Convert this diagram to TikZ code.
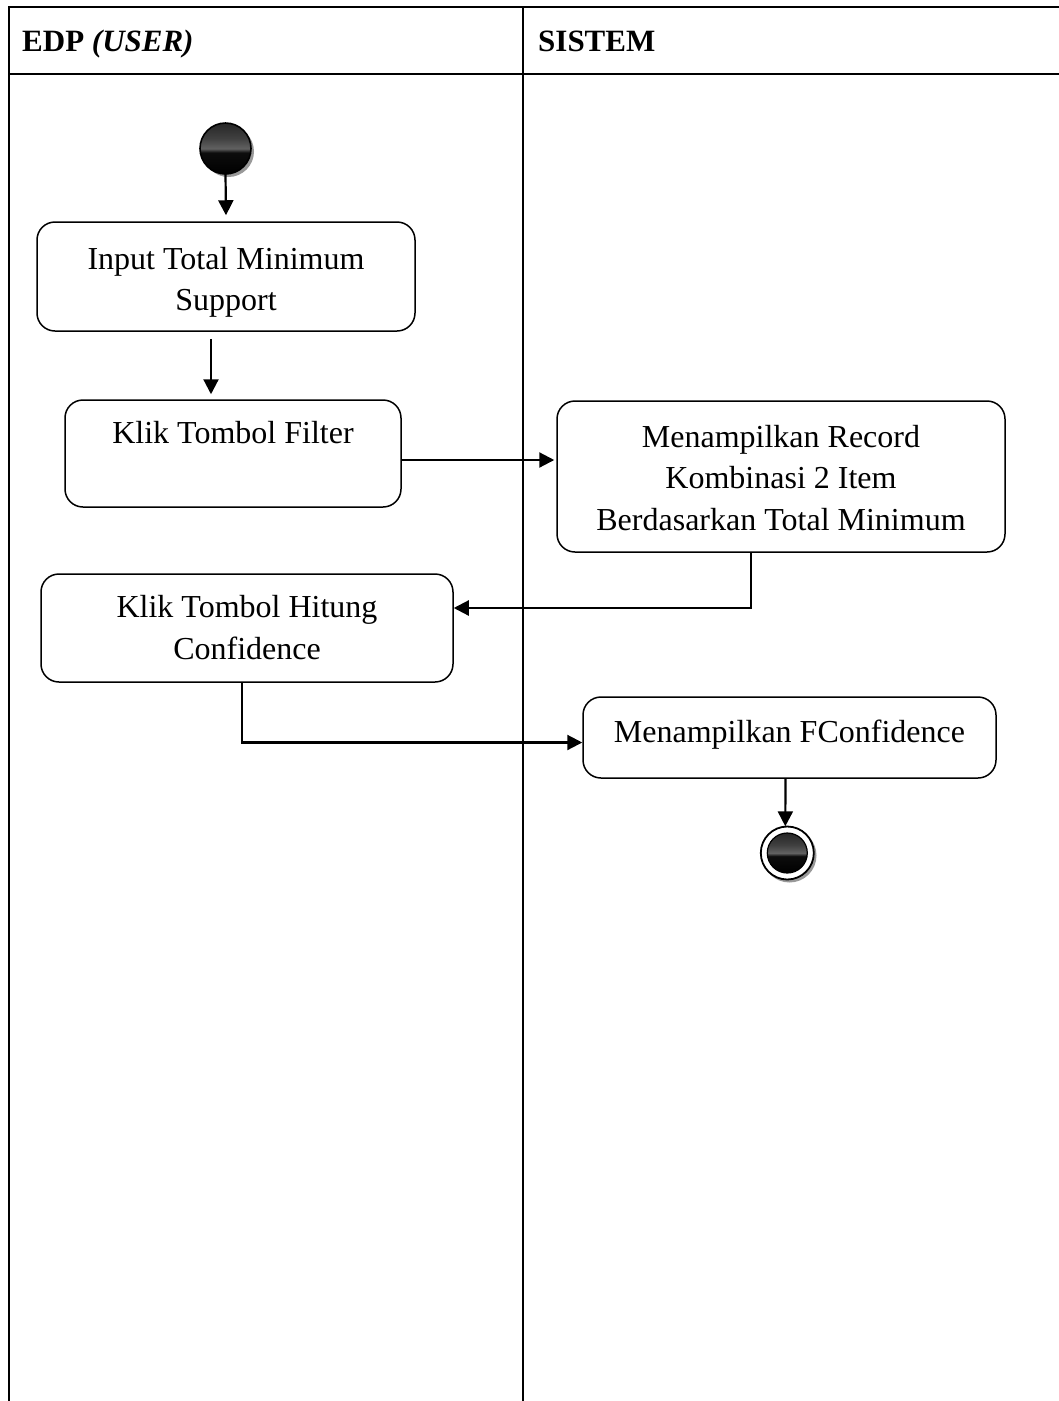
\documentclass[tikz,border=0pt]{standalone}
\usepackage{fontspec}
\setmainfont{Liberation Serif}
\usetikzlibrary{arrows.meta,calc}
\newcommand{\lowtxt}[2][-4pt]{\raisebox{#1}[\height][\depth]{\begin{tabular}{@{}c@{}}#2\end{tabular}}}
\pgfdeclareverticalshading{ucball}{100bp}{color(0bp)=(black); color(25bp)=(black); color(46bp)=(black!95); color(50bp)=(black!62); color(60bp)=(black!75); color(75bp)=(black!85); color(100bp)=(black!85)}
\begin{document}
\begin{tikzpicture}[x=1pt,y=-1pt,
  actbox/.style={draw,line width=1.5pt,rounded corners=18pt,inner sep=0pt,
    font=\fontsize{32}{41.5}\selectfont},
  arr/.style={line width=2.2pt,-{Triangle[length=15pt,width=15pt]}},
  lane/.style={line width=1.8pt},
  ballshade/.style={shading=ucball}
]
\useasboundingbox (0,0) rectangle (1059,1401);
% swimlane table
\draw[lane] (1059,7) -- (9,7) -- (9,1401);
\draw[lane] (9,74) -- (1059,74);
\draw[lane] (523,7) -- (523,1401);
\node[anchor=base west,inner sep=0pt,font=\fontsize{31}{36}\selectfont\bfseries] (h1) at (22,51) {EDP \textit{(USER)}};
\node[anchor=base west,inner sep=0pt,font=\fontsize{31}{36}\selectfont\bfseries] (h2) at (538,51) {SISTEM};
% start node
\fill[black!40] (228.5,151.5) circle (25.5);
\shade[ballshade] (225.5,148.5) circle (25.5);
\draw[line width=1.6pt] (225.5,148.5) circle (25.5);
\node[circle,minimum size=51pt,inner sep=0pt] (start) at (225.5,148.5) {};
% activities
\node[actbox,minimum width=378pt,minimum height=109pt] (box1) at (226,276.5) {\lowtxt[-5pt]{Input Total Minimum\\Support}};
\node[actbox,minimum width=336pt,minimum height=107pt] (box2) at (233,453.5) {\lowtxt[-2pt]{Klik Tombol Filter\\\mbox{}}};
\node[actbox,minimum width=448pt,minimum height=151pt] (box3) at (781,476.5) {\lowtxt{Menampilkan Record\\Kombinasi 2 Item\\Berdasarkan Total Minimum}};
\node[actbox,minimum width=412pt,minimum height=108pt] (box4) at (247,628) {\lowtxt[-2pt]{Klik Tombol Hitung\\Confidence}};
\node[actbox,minimum width=413pt,minimum height=81pt] (box5) at (789.5,737.5) {\lowtxt[3pt]{Menampilkan FConfidence}};
% end node
\fill[black!40] (789.5,855.5) circle (27);
\draw[line width=1.8pt,fill=white] (787.3,853) circle (26.5);
\shade[ballshade] (787.3,853) circle (20);
\draw[line width=1.2pt] (787.3,853) circle (20);
\node[circle,minimum size=53pt,inner sep=0pt] (end) at (787.3,853) {};
% connectors
\draw[arr] (start.south) -- ([yshift=6pt]box1.north);
\draw[arr] ([xshift=-15pt,yshift=-7pt]box1.south) -- ([xshift=-22pt,yshift=5pt]box2.north);
\draw[arr] ([yshift=-6.5pt]box2.east) -- ([yshift=-6.5pt,xshift=-2pt]box2.east -| box3.west);
\draw[arr] ([xshift=-30pt]box3.south) |- ([yshift=20pt]box4.east);
\draw[arr] ([xshift=-5pt]box4.south) |- ([yshift=-5pt]box5.west);
\draw[arr] ([xshift=-4pt]box5.south) -- ([xshift=-2pt]end.north);
\end{tikzpicture}
\end{document}
